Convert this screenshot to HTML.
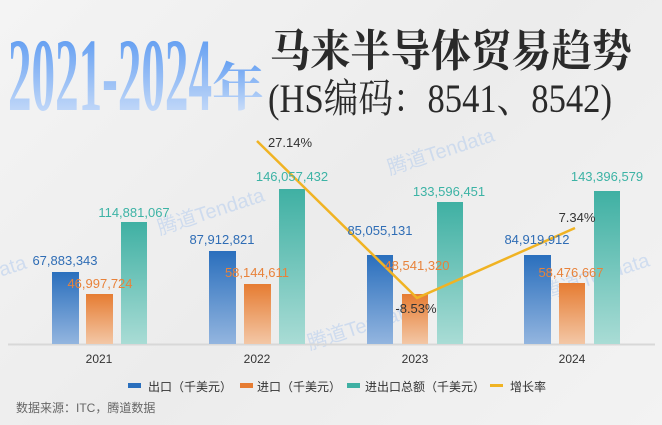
<!DOCTYPE html>
<html><head><meta charset="utf-8"><style>
html,body{margin:0;padding:0}
body{width:662px;height:425px;overflow:hidden;background:linear-gradient(135deg,#f4f4f4,#ececec 50%,#f3f3f3);position:relative;font-family:"Liberation Sans","Noto Sans CJK SC",sans-serif}
</style></head><body>
<svg width="662" height="425" viewBox="0 0 662 425" xmlns="http://www.w3.org/2000/svg" style="position:absolute;left:0;top:0">
<defs>
<linearGradient id="tg" x1="0" y1="0" x2="0" y2="1"><stop offset="0" stop-color="#4a8ff0"/><stop offset="1" stop-color="#dce8fa"/></linearGradient>
<linearGradient id="gb" x1="0" y1="0" x2="0" y2="1"><stop offset="0" stop-color="#2a6fbd"/><stop offset="1" stop-color="#93b5df"/></linearGradient>
<linearGradient id="go" x1="0" y1="0" x2="0" y2="1"><stop offset="0" stop-color="#e67c32"/><stop offset="1" stop-color="#f3c7a6"/></linearGradient>
<linearGradient id="gt" x1="0" y1="0" x2="0" y2="1"><stop offset="0" stop-color="#3fb0a3"/><stop offset="1" stop-color="#a9dcd5"/></linearGradient>
</defs>
<text x="8" y="110" font-family="Liberation Serif,serif" font-weight="bold" font-size="104" fill="url(#tg)" textLength="204" lengthAdjust="spacingAndGlyphs">2021-2024</text>
<text x="212" y="106" font-family="Noto Serif CJK SC,serif" font-weight="bold" font-size="52" fill="url(#tg)">年</text>
<text x="270" y="66" font-family="Noto Serif CJK SC,serif" font-weight="bold" font-size="44" fill="#2a2a2a" textLength="362" lengthAdjust="spacingAndGlyphs">马来半导体贸易趋势</text>
<text x="268" y="112" font-family="Liberation Serif,Noto Serif CJK SC,serif" font-size="40" fill="#2a2a2a" textLength="344" lengthAdjust="spacingAndGlyphs">(HS编码：8541、8542)</text>
<g font-family="Liberation Sans,Noto Sans CJK SC,sans-serif" font-size="20" fill="#a9c6ee" opacity="0.45">
<text x="160" y="235" transform="rotate(-18 160 235)">腾道Tendata</text>
<text x="390" y="175" transform="rotate(-18 390 175)">腾道Tendata</text>
<text x="310" y="350" transform="rotate(-18 310 350)">腾道Tendata</text>
<text x="545" y="300" transform="rotate(-18 545 300)">腾道Tendata</text>
<text x="-40" y="290" transform="rotate(-18 -40 290)">Tendata</text>
</g>
<line x1="8" y1="344.5" x2="655" y2="344.5" stroke="#d8d8d8" stroke-width="2"/>
<g>
<rect x="52" y="272" width="27" height="72" fill="url(#gb)"/><rect x="86" y="294" width="27" height="50" fill="url(#go)"/><rect x="121" y="222" width="26" height="122" fill="url(#gt)"/>
<rect x="209" y="251" width="27" height="93" fill="url(#gb)"/><rect x="244" y="284" width="27" height="60" fill="url(#go)"/><rect x="279" y="189" width="26" height="155" fill="url(#gt)"/>
<rect x="367" y="255" width="26" height="89" fill="url(#gb)"/><rect x="402" y="294" width="26" height="50" fill="url(#go)"/><rect x="437" y="202" width="26" height="142" fill="url(#gt)"/>
<rect x="524" y="255" width="27" height="89" fill="url(#gb)"/><rect x="559" y="283" width="26" height="61" fill="url(#go)"/><rect x="594" y="191" width="26" height="153" fill="url(#gt)"/>
</g>
<polyline points="257,141 417,298 575,228" fill="none" stroke="#f0b323" stroke-width="2.5"/>
<g font-size="13" text-anchor="middle">
<g fill="#2f6db5"><text x="65" y="265">67,883,343</text><text x="222" y="244">87,912,821</text><text x="380" y="235">85,055,131</text><text x="537" y="244">84,919,912</text></g>
<g fill="#e8823a"><text x="100" y="288">46,997,724</text><text x="257" y="277">58,144,611</text><text x="417" y="270">48,541,320</text><text x="571" y="277">58,476,667</text></g>
<g fill="#3cb3a5"><text x="134" y="217">114,881,067</text><text x="292" y="181">146,057,432</text><text x="449" y="196">133,596,451</text><text x="607" y="181">143,396,579</text></g>
<g fill="#333"><text x="290" y="147">27.14%</text><text x="577" y="222">7.34%</text><text x="416" y="313">-8.53%</text></g>
<g fill="#333" font-size="12"><text x="99" y="363">2021</text><text x="257" y="363">2022</text><text x="415" y="363">2023</text><text x="572" y="363">2024</text></g>
</g>
<g font-size="12" fill="#333">
<rect x="128" y="383" width="13" height="5" fill="#2a6fbd"/><text x="148" y="391">出口（千美元）</text>
<rect x="240" y="383" width="13" height="5" fill="#e67c32"/><text x="257" y="391">进口（千美元）</text>
<rect x="347" y="383" width="13" height="5" fill="#3fb0a3"/><text x="365" y="391">进出口总额（千美元）</text>
<rect x="490" y="384" width="13" height="3" fill="#f0b323"/><text x="510" y="391">增长率</text>
<text x="16" y="412" fill="#666">数据来源：ITC，腾道数据</text>
</g>
</svg>
</body></html>
